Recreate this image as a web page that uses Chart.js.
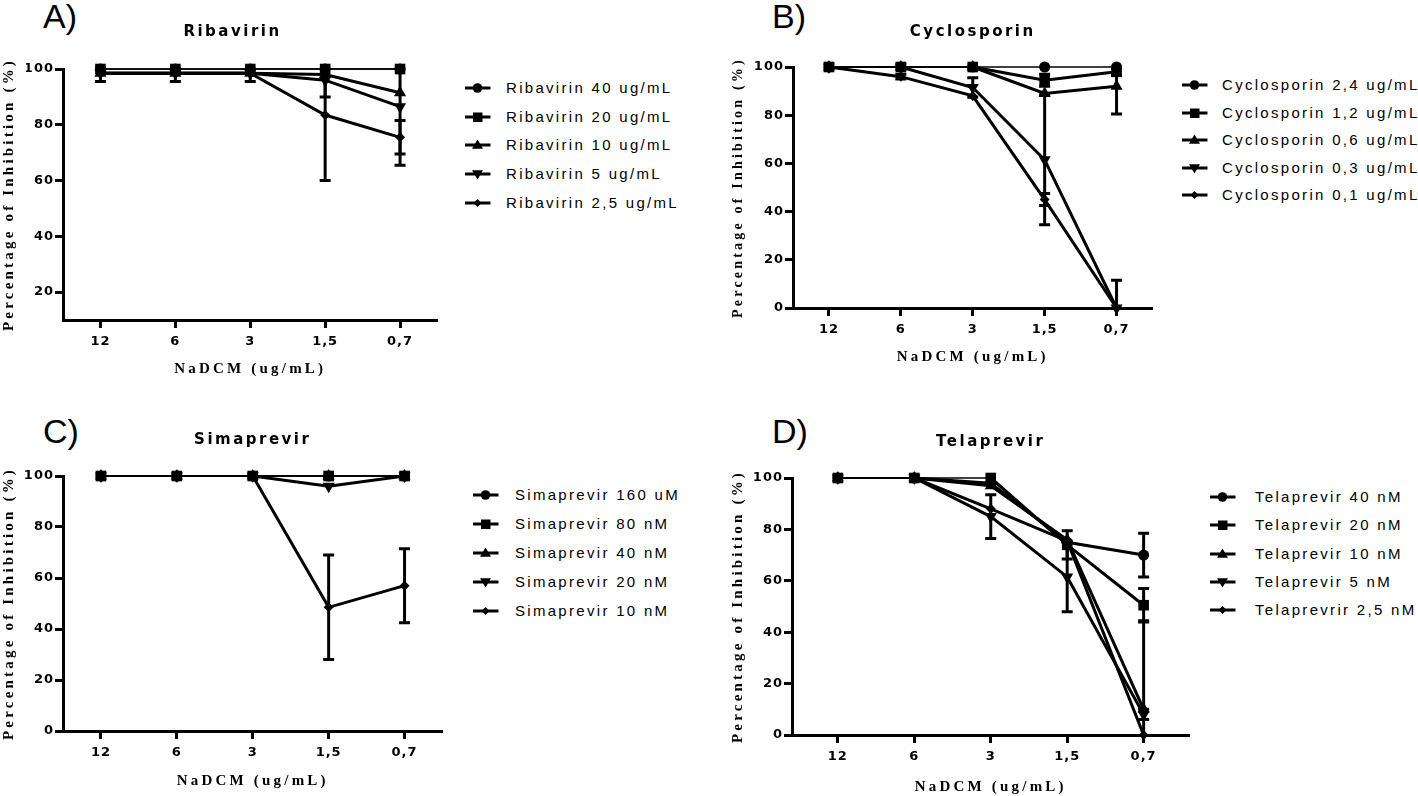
<!DOCTYPE html>
<html><head><meta charset="utf-8">
<script src="https://cdn.jsdelivr.net/npm/chart.js@4/dist/chart.umd.min.js"></script>
<style>
html,body{margin:0;padding:0;background:#fff;width:1418px;height:796px;overflow:hidden;}
body{position:relative;}
canvas{position:absolute;}
.plabel{position:absolute;font-family:'Liberation Sans',Arial,sans-serif;font-size:34px;line-height:34px;color:#000;}
.li{position:absolute;white-space:nowrap;height:20px;line-height:20px;font-family:'Liberation Sans',Arial,sans-serif;font-size:15px;letter-spacing:2.3px;color:#000;}
.li svg{position:absolute;left:0;top:0;}
.li span{position:absolute;top:0;}
</style></head><body>
<script>
// ---------- DATA ----------
const doseLabels = ['12', '6', '3', '1,5', '0,7'];
const yTicksA = [20, 40, 60, 80, 100];
const yTicksFull = [0, 20, 40, 60, 80, 100];

// A) Ribavirin
const ribaNames = ['Ribavirin 40 ug/mL', 'Ribavirin 20 ug/mL', 'Ribavirin 10 ug/mL', 'Ribavirin 5 ug/mL', 'Ribavirin 2,5 ug/mL'];
const riba40 = [100, 100, 100, 100, 100];
const riba20 = [100, 100, 100, 100, 100];
const riba10 = [98.5, 98.5, 98.5, 98, 91.5];
const riba5 = [98.5, 98.5, 98.5, 96, 86.5];
const riba25 = [98.5, 98.5, 98.5, 83.5, 75.5];
const riba40Err = [0, 0, 0, 0, 0];
const riba20Err = [0, 0, 0, 0, 0];
const riba10Err = [0, 0, 0, 0, 0];
const riba5Err = [0, 0, 0, 6, 21];
const riba25Err = [3, 3, 3, 23.5, 6];

// B) Cyclosporin
const cycloNames = ['Cyclosporin 2,4 ug/mL', 'Cyclosporin 1,2 ug/mL', 'Cyclosporin 0,6 ug/mL', 'Cyclosporin 0,3 ug/mL', 'Cyclosporin 0,1 ug/mL'];
const cyclo24 = [100, 100, 100, 100, 100];
const cyclo12 = [100, 100, 100, 94.5, 98];
const cyclo06 = [100, 100, 100, 89, 92];
const cyclo03 = [100, 100, 91.5, 61.5, 0];
const cyclo01 = [100, 96, 88, 45, 0];
const cyclo24Err = [0, 0, 0, 0, 0];
const cyclo12Err = [0, 0, 0, 2.5, 1.5];
const cyclo06Err = [0, 0, 0, 0, 11.5];
const cyclo03Err = [0, 0, 4, 27, 11.5];
const cyclo01Err = [0, 1, 0, 2.5, 0];

// C) Simaprevir
const simaNames = ['Simaprevir 160 uM', 'Simaprevir 80 nM', 'Simaprevir 40 nM', 'Simaprevir 20 nM', 'Simaprevir 10 nM'];
const sima160 = [100, 100, 100, 100, 100];
const sima80 = [100, 100, 100, 100, 100];
const sima40 = [100, 100, 100, 100, 100];
const sima20 = [100, 100, 100, 96, 100];
const sima10 = [100, 100, 100, 48.5, 57];
const sima160Err = [0, 0, 0, 0, 0];
const sima80Err = [0, 0, 0, 0, 0];
const sima40Err = [0, 0, 0, 0, 0];
const sima20Err = [0, 0, 0, 0, 0];
const sima10Err = [0, 0, 0, 20.5, 14.5];

// D) Telaprevir
const telaNames = ['Telaprevir 40 nM', 'Telaprevir 20 nM', 'Telaprevir 10 nM', 'Telaprevir 5 nM', 'Telaprevrir 2,5 nM'];
const tela40 = [100, 100, 98, 75, 70];
const tela20 = [100, 100, 100, 74, 50.5];
const tela10 = [100, 100, 97, 76, 10];
const tela5 = [100, 100, 85, 61.5, 8];
const tela25 = [100, 100, 88, 75.5, 0];
const tela40Err = [0, 0, 0, 0, 8.5];
const tela20Err = [0, 0, 0, 5.5, 6.5];
const tela10Err = [0, 0, 0, 0, 34.5];
const tela5Err = [0, 0, 8.5, 13.5, 2];
const tela25Err = [0, 0, 0, 0, 0];

// ---------- STYLE ----------
const SANS = "'Liberation Sans', Arial, sans-serif";
const HEAVY = "'DejaVu Sans', 'Liberation Sans', sans-serif";
const SERIF = "'Liberation Serif', 'Times New Roman', serif";
const MARKERS = [
  {style: 'circle', rot: 0, r: 5.5, order: 1},
  {style: 'rect', rot: 0, r: 7.5, order: 0},
  {style: 'triangle', rot: 0, r: 7, order: 2},
  {style: 'triangle', rot: 180, r: 7, order: 3},
  {style: 'rectRot', rot: 0, r: 5, order: 4}
];

const panels = [
  {label: 'A)', labelPos: [43, -1], title: 'Ribavirin', names: ribaNames,
   values: [riba40, riba20, riba10, riba5, riba25], errors: [riba40Err, riba20Err, riba10Err, riba5Err, riba25Err],
   yMin: 10, yTicks: yTicksA, xMin: -0.5, xMax: 4.5,
   canvas: {left: 0, top: 0, w: 445, h: 378}, padL: 26, padR: 6, yAxisW: 37, yTitlePad: -26, fullSize: true,
   titlePad: {top: 23, bottom: 28}, xAxisH: 58, yTitleSize: 15,
   legend: {marker: 465, text: 506, y: 88, step: 28.7}},
  {label: 'B)', labelPos: [772, -1], title: 'Cyclosporin', names: cycloNames,
   values: [cyclo24, cyclo12, cyclo06, cyclo03, cyclo01], errors: [cyclo24Err, cyclo12Err, cyclo06Err, cyclo03Err, cyclo01Err],
   yMin: 0, yTicks: yTicksFull, xMin: -0.5, xMax: 4.5,
   canvas: {left: 730, top: 0, w: 430, h: 366}, padL: 0, padR: 5, yAxisW: 63, yTitlePad: 0, fullSize: false,
   titlePad: {top: 23, bottom: 26}, xAxisH: 58, yTitleSize: 14,
   legend: {marker: 1182, text: 1222, y: 85, step: 27.5}},
  {label: 'C)', labelPos: [43, 414], title: 'Simaprevir', names: simaNames,
   values: [sima160, sima80, sima40, sima20, sima10], errors: [sima160Err, sima80Err, sima40Err, sima20Err, sima10Err],
   yMin: 0, yTicks: yTicksFull, xMin: -0.5, xMax: 4.5,
   canvas: {left: 0, top: 410, w: 450, h: 380}, padL: 0, padR: 5, yAxisW: 63, yTitlePad: 0, fullSize: false,
   titlePad: {top: 21, bottom: 27}, xAxisH: 59, yTitleSize: 15,
   legend: {marker: 473, text: 515, y: 495, step: 29}},
  {label: 'D)', labelPos: [772, 414], title: 'Telaprevir', names: telaNames,
   values: [tela40, tela20, tela10, tela5, tela25], errors: [tela40Err, tela20Err, tela10Err, tela5Err, tela25Err],
   yMin: 0, yTicks: yTicksFull, xMin: -0.6, xMax: 4.6,
   canvas: {left: 729, top: 410, w: 468, h: 386}, padL: 0, padR: 5, yAxisW: 63, yTitlePad: 0, fullSize: false,
   titlePad: {top: 23, bottom: 27}, xAxisH: 61, yTitleSize: 15,
   legend: {marker: 1210, text: 1255, y: 497, step: 28.3}}
];

// letter spacing for canvas text (GraphPad-like spaced lettering)
const spacingPlugin = {
  id: 'spacing',
  beforeDraw(chart) {
    const ctx = chart.ctx;
    if (ctx._lsPatched) return;
    const orig = ctx.fillText;
    ctx.fillText = function () {
      const f = this.font;
      if (/Serif/i.test(f) && !/Sans/i.test(f)) this.letterSpacing = '3.2px';
      else if (/15px/.test(f)) this.letterSpacing = '2.5px';
      else this.letterSpacing = '1px';
      return orig.apply(this, arguments);
    };
    ctx._lsPatched = true;
  }
};

// error bars drawn through the chart's own scales
const errorBarPlugin = {
  id: 'errorBars',
  afterDatasetsDraw(chart) {
    const {ctx, chartArea, scales} = chart;
    const xs = scales.x, ys = scales.y;
    ctx.save();
    ctx.beginPath();
    ctx.rect(chartArea.left - 30, chartArea.top, chartArea.width + 60, chartArea.height);
    ctx.clip();
    ctx.strokeStyle = '#000';
    ctx.lineWidth = 3;
    chart.data.datasets.forEach(ds => {
      (ds.errors || []).forEach((e, i) => {
        if (!e) return;
        const v = ds.data[i].y;
        const px = xs.getPixelForValue(i);
        const yT = ys.getPixelForValue(v + e);
        const yB = ys.getPixelForValue(v - e);
        ctx.beginPath();
        ctx.moveTo(px, yT); ctx.lineTo(px, yB);
        ctx.moveTo(px - 5.5, yT); ctx.lineTo(px + 5.5, yT);
        ctx.moveTo(px - 5.5, yB); ctx.lineTo(px + 5.5, yB);
        ctx.stroke();
      });
    });
    ctx.restore();
  }
};

function markerSvg(k) {
  let shape = '';
  switch (k) {
    case 0: shape = '<circle cx="12.5" cy="10" r="4.8"/>'; break;
    case 1: shape = '<rect x="8" y="5.5" width="9.5" height="9.5"/>'; break;
    case 2: shape = '<polygon points="12.5,4.5 18,13.8 7,13.8"/>'; break;
    case 3: shape = '<polygon points="7,6.2 18,6.2 12.5,15.5"/>'; break;
    case 4: shape = '<polygon points="12.5,6 16.5,10 12.5,14 8.5,10"/>'; break;
  }
  return '<svg width="26" height="20" viewBox="0 0 26 20"><line x1="0" y1="10" x2="25.5" y2="10" stroke="#000" stroke-width="3"/><g fill="#000">' + shape + '</g></svg>';
}

panels.forEach(p => {
  // panel letter
  const lab = document.createElement('div');
  lab.className = 'plabel';
  lab.style.left = p.labelPos[0] + 'px';
  lab.style.top = p.labelPos[1] + 'px';
  lab.textContent = p.label;
  document.body.appendChild(lab);

  // canvas
  const cv = document.createElement('canvas');
  cv.width = p.canvas.w; cv.height = p.canvas.h;
  cv.style.left = p.canvas.left + 'px';
  cv.style.top = p.canvas.top + 'px';
  cv.style.width = p.canvas.w + 'px';
  cv.style.height = p.canvas.h + 'px';
  document.body.appendChild(cv);

  const datasets = p.names.map((n, k) => ({
    label: n,
    data: p.values[k].map((v, i) => ({x: i, y: v})),
    errors: p.errors[k],
    borderColor: '#000', backgroundColor: '#000',
    pointBackgroundColor: '#000', pointBorderColor: '#000', pointBorderWidth: 0,
    pointStyle: MARKERS[k].style, pointRotation: MARKERS[k].rot, pointRadius: MARKERS[k].r,
    pointHoverRadius: MARKERS[k].r,
    borderWidth: 3, tension: 0, clip: false, order: MARKERS[k].order,
    segment: {borderWidth: c => (c.p0.parsed.y >= 100 && c.p1.parsed.y >= 100) ? 1.5 : 3}
  }));

  const tickFont = {family: HEAVY, size: 13, weight: 'bold'};
  new Chart(cv, {
    type: 'line',
    data: {datasets},
    options: {
      responsive: false, animation: false, devicePixelRatio: 1,
      layout: {padding: {left: p.padL, right: p.padR, top: 0, bottom: 0}},
      plugins: {
        legend: {display: false}, tooltip: {enabled: false},
        title: {display: true, text: p.title, color: '#000', fullSize: p.fullSize,
          font: {family: HEAVY, size: 15, weight: 'bold'}, padding: p.titlePad}
      },
      scales: {
        x: {
          type: 'linear', min: p.xMin, max: p.xMax,
          afterBuildTicks: s => { s.ticks = doseLabels.map((_, i) => ({value: i})); },
          afterFit: s => { s.height = p.xAxisH; },
          ticks: {callback: v => doseLabels[v], color: '#000', font: tickFont, padding: 6, autoSkip: false, maxRotation: 0},
          grid: {drawOnChartArea: false, drawTicks: true, tickLength: 8, tickWidth: 3, tickColor: '#000'},
          border: {display: true, color: '#000', width: 3},
          title: {display: true, text: 'NaDCM (ug/mL)', color: '#000', font: {family: SERIF, size: 15, weight: 'bold'}, padding: 0}
        },
        y: {
          type: 'linear', min: p.yMin, max: 100,
          afterBuildTicks: s => { s.ticks = p.yTicks.map(v => ({value: v})); },
          afterFit: s => { s.width = p.yAxisW; },
          ticks: {color: '#000', font: tickFont, padding: 1},
          grid: {drawOnChartArea: false, drawTicks: true, tickLength: 8, tickWidth: 3, tickColor: '#000'},
          border: {display: true, color: '#000', width: 3},
          title: {display: true, text: 'Percentage of Inhibition (%)', color: '#000',
            font: {family: SERIF, size: p.yTitleSize, weight: 'bold'}, padding: {top: p.yTitlePad, bottom: 0}}
        }
      }
    },
    plugins: [spacingPlugin, errorBarPlugin]
  });

  // legend (HTML)
  p.names.forEach((n, k) => {
    const row = document.createElement('div');
    row.className = 'li';
    row.style.left = p.legend.marker + 'px';
    row.style.top = (p.legend.y + k * p.legend.step - 10) + 'px';
    row.innerHTML = markerSvg(k);
    const sp = document.createElement('span');
    sp.style.left = (p.legend.text - p.legend.marker) + 'px';
    sp.textContent = n;
    row.appendChild(sp);
    document.body.appendChild(row);
  });
});
</script>
</body></html>
